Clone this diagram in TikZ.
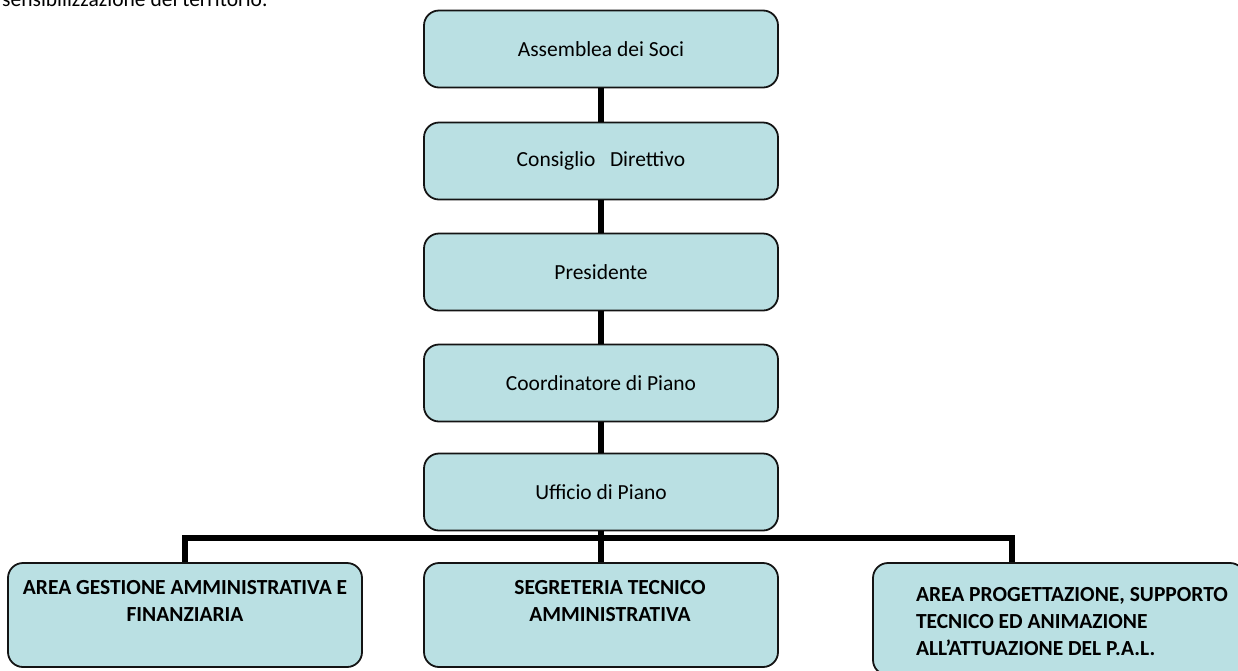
\documentclass[tikz,border=0pt]{standalone}
\usepackage{fontspec}
\setmainfont{Carlito}
\definecolor{boxfill}{RGB}{186,224,227}
\definecolor{boxline}{RGB}{20,20,20}
\begin{document}
\begin{tikzpicture}[x=1pt, y=-1pt,
    ente/.style={draw=boxline, line width=1.8pt, fill=boxfill, rounded corners=15pt,
      minimum width=354pt, minimum height=77pt, inner sep=0pt,
      font=\fontsize{21.5}{27}\selectfont},
    area/.style={ente, minimum height=104pt, font=\fontsize{21.5}{27}\selectfont\bfseries},
    filo/.style={line width=5.5pt, line join=miter}]
  \useasboundingbox (0,0) rectangle (1238,670);
  \clip (0,0) rectangle (1238,670);
  % testo tagliato in alto
  \node[anchor=base west, inner sep=0pt, font=\fontsize{21.5}{27}\selectfont] (intro) at (2,6) {sensibilizzazione del territorio.};
  % catena centrale
  \node[ente] (soci) at (601,49) {Assemblea dei Soci};
  \node[ente] (consiglio) at (601,161) {Consiglio~~~Direttivo};
  \node[ente] (presidente) at (601,272) {Presidente};
  \node[ente] (coordinatore) at (601,383) {Coordinatore di Piano};
  \node[ente] (ufficio) at (601,492) {Ufficio di Piano};
  % aree in basso
  \node[area] (gestione) at (185,615) {\parbox[t][70pt][t]{340pt}{\centering AREA GESTIONE AMMINISTRATIVA E\\ FINANZIARIA}};
  \node[area] (segreteria) at (601,615) {\parbox[t][70pt][t]{340pt}{\centering\leftskip=18pt plus 1fil SEGRETERIA TECNICO\\ AMMINISTRATIVA}};
  \node[area, minimum width=372pt, minimum height=112pt] (progetto) at (1059,619) {\parbox[t][64pt][t]{354pt}{\raggedright\leftskip=34pt AREA PROGETTAZIONE, SUPPORTO\\ TECNICO ED ANIMAZIONE\\ ALL’ATTUAZIONE DEL P.A.L.}};
  \coordinate (attacco) at ([xshift=140pt]progetto.north west);
  % collegamenti
  \draw[filo] (soci) -- (consiglio);
  \draw[filo] (consiglio) -- (presidente);
  \draw[filo] (presidente) -- (coordinatore);
  \draw[filo] (coordinatore) -- (ufficio);
  \draw[filo] (ufficio) -- (segreteria);
  \draw[filo] (gestione.north) -- ++(0,-24) -| (attacco);
\end{tikzpicture}
\end{document}
